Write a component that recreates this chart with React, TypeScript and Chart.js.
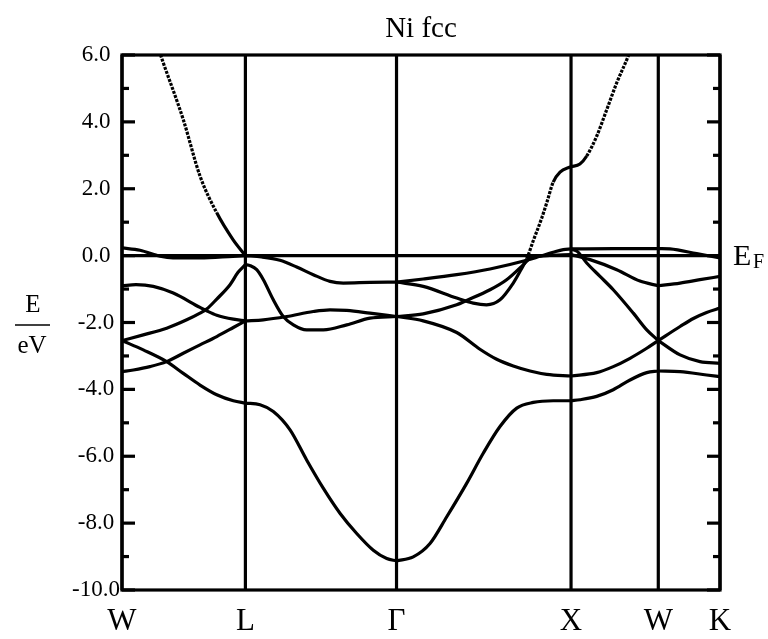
import React, { useEffect, useRef } from "react";
import { Chart, registerables } from "chart.js";

Chart.register(...registerables);

const FONT = "'Liberation Serif', 'Times New Roman', serif";

// ---- high-symmetry path (units of 2π/a) ----
const kPoints = [0, 0.7071, 1.5731, 2.5731, 3.0731, 3.4267];
const kLabels = ["W", "L", "Γ", "X", "W", "K"];

// ---- energy axis ----
const yMin = -10;
const yMax = 6;
const yMajorTicks = [-10, -8, -6, -4, -2, 0, 2, 4, 6];
const yMinorTicks = [-9, -7, -5, -3, -1, 1, 3, 5];
const fermiEnergy = 0;

const titleText = "Ni fcc";
const yLabelTop = "E";
const yLabelBottom = "eV";
const fermiLabel = "E";
const fermiSub = "F";

// ---- bands: [k, E(eV)] ----
// W -> L
const bandWL_a = [[0, 0.23], [0.103, 0.16], [0.218, -0.02], [0.292, -0.07], [0.447, -0.07], [0.636, -0.02], [0.7071, 0]];
const bandWL_sp = [[0.189, 6.5], [0.231, 5.85], [0.351, 4.07], [0.447, 2.38], [0.543, 1.28], [0.636, 0.48], [0.7071, 0]];
const bandWL_b = [[0, -0.9], [0.08, -0.87], [0.179, -0.92], [0.294, -1.12], [0.447, -1.55], [0.485, -1.65], [0.543, -1.78], [0.638, -1.9], [0.7071, -1.95]];
const bandWL_c = [[0, -2.54], [0.122, -2.37], [0.256, -2.17], [0.371, -1.92], [0.447, -1.72], [0.485, -1.6], [0.543, -1.3], [0.619, -0.87], [0.665, -0.5], [0.7071, -0.27]];
const bandWL_d = [[0, -3.47], [0.065, -3.42], [0.16, -3.32], [0.256, -3.17], [0.351, -2.92], [0.447, -2.67], [0.543, -2.42], [0.638, -2.15], [0.7071, -1.95]];
const bandWL_e = [[0, -2.54], [0.122, -2.82], [0.256, -3.17], [0.351, -3.52], [0.447, -3.87], [0.543, -4.16], [0.638, -4.34], [0.7071, -4.41]];

// L -> Γ
const bandLG_a = [[0.7071, 0], [0.8, -0.04], [0.905, -0.14], [1.001, -0.34], [1.096, -0.57], [1.192, -0.77], [1.268, -0.82], [1.421, -0.8], [1.5731, -0.79]];
const bandLG_c = [[0.7071, -0.27], [0.735, -0.3], [0.772, -0.42], [0.81, -0.72], [0.867, -1.32], [0.924, -1.82], [0.982, -2.07], [1.058, -2.22], [1.154, -2.22], [1.288, -2.07], [1.421, -1.87], [1.5731, -1.82]];
const bandLG_b = [[0.7071, -1.95], [0.81, -1.92], [0.944, -1.82], [1.096, -1.67], [1.192, -1.62], [1.288, -1.64], [1.421, -1.72], [1.5731, -1.82]];
const bandLG_low = [[0.7071, -4.41], [0.791, -4.46], [0.867, -4.66], [0.963, -5.21], [1.058, -6.11], [1.154, -6.96], [1.25, -7.71], [1.345, -8.31], [1.44, -8.81], [1.517, -9.06], [1.5731, -9.13]];

// Γ -> X
const bandGX_a = [[1.5731, -0.79], [1.726, -0.7], [1.918, -0.57], [2.109, -0.4], [2.319, -0.14], [2.395, -0.02], [2.471, 0.1], [2.529, 0.18], [2.5731, 0.2]];
const bandGX_sp = [[1.5731, -0.79], [1.726, -0.92], [1.918, -1.27], [2.013, -1.42], [2.089, -1.47], [2.166, -1.32], [2.242, -0.82], [2.281, -0.47], [2.319, -0.1], [2.357, 0.45], [2.405, 1.12], [2.435, 1.6], [2.471, 2.2], [2.51, 2.5], [2.5731, 2.66]];
const bandGX_b = [[1.5731, -1.82], [1.726, -1.74], [1.918, -1.47], [1.975, -1.34], [2.109, -1.02], [2.204, -0.72], [2.3, -0.27], [2.338, -0.08], [2.434, 0.0], [2.5731, 0.03]];
const bandGX_c = [[1.5731, -1.82], [1.726, -1.95], [1.918, -2.3], [2.051, -2.8], [2.147, -3.1], [2.242, -3.3], [2.338, -3.45], [2.434, -3.55], [2.5731, -3.6]];
const bandGX_low = [[1.5731, -9.13], [1.669, -9.01], [1.765, -8.61], [1.861, -7.81], [1.975, -6.81], [2.07, -5.91], [2.166, -5.11], [2.262, -4.56], [2.357, -4.39], [2.471, -4.34], [2.5731, -4.34]];

// X -> W
const bandXW_flat = [[2.5731, 0.2], [2.82, 0.21], [3.0731, 0.21]];
const bandXW_steep = [[2.5731, 0.2], [2.61, 0.12], [2.663, -0.22], [2.739, -0.62], [2.815, -1.02], [2.93, -1.72], [3.007, -2.22], [3.0731, -2.54]];
const bandXW_gentle = [[2.5731, 0.03], [2.682, -0.12], [2.835, -0.42], [2.968, -0.76], [3.0731, -0.9]];
const bandXW_sp = [[2.5731, 2.66], [2.624, 2.74], [2.663, 2.98], [2.72, 3.57], [2.778, 4.37], [2.835, 5.17], [2.901, 5.97], [2.93, 6.4]];
const bandXW_c = [[2.5731, -3.6], [2.72, -3.5], [2.815, -3.32], [2.911, -3.07], [3.007, -2.77], [3.0731, -2.54]];
const bandXW_low = [[2.5731, -4.34], [2.624, -4.31], [2.72, -4.21], [2.815, -4.01], [2.911, -3.72], [3.007, -3.5], [3.0731, -3.45]];

// W -> K
const bandWK_a = [[3.0731, 0.21], [3.14, 0.2], [3.293, 0.06], [3.4267, -0.07]];
const bandWK_b = [[3.0731, -0.9], [3.198, -0.82], [3.312, -0.72], [3.4267, -0.62]];
const bandWK_c = [[3.0731, -2.54], [3.198, -2.12], [3.274, -1.88], [3.35, -1.7], [3.4267, -1.57]];
const bandWK_d = [[3.0731, -2.54], [3.198, -2.97], [3.312, -3.17], [3.4267, -3.22]];
const bandWK_low = [[3.0731, -3.45], [3.198, -3.47], [3.35, -3.57], [3.4267, -3.62]];

const bands = [
  bandWL_a, bandWL_b, bandWL_c, bandWL_d, bandWL_e,
  bandLG_a, bandLG_c, bandLG_b, bandLG_low,
  bandGX_a, bandGX_b, bandGX_c, bandGX_low,
  bandXW_flat, bandXW_steep, bandXW_gentle, bandXW_c, bandXW_low,
  bandWK_a, bandWK_b, bandWK_c, bandWK_d, bandWK_low,
];
const spBands = [bandWL_sp, bandGX_sp, bandXW_sp];

const decorPlugin = {
  id: "decor",
  beforeDatasetsDraw(chart: any) {
    const { ctx, chartArea: a, scales } = chart;
    const x = scales.x;
    const y = scales.y;
    ctx.save();
    ctx.strokeStyle = "#000";
    ctx.lineWidth = 3.2;
    ctx.lineCap = "butt";
    const line = (x1: number, y1: number, x2: number, y2: number) => {
      ctx.beginPath();
      ctx.moveTo(x1, y1);
      ctx.lineTo(x2, y2);
      ctx.stroke();
    };
    kPoints.forEach((k) => {
      const px = x.getPixelForValue(k);
      line(px, a.top, px, a.bottom);
    });
    const fy = y.getPixelForValue(fermiEnergy);
    line(a.left, fy, a.right, fy);
    yMajorTicks.forEach((v) => {
      const py = y.getPixelForValue(v);
      line(a.left, py, a.left + 13, py);
      line(a.right - 13, py, a.right, py);
    });
    yMinorTicks.forEach((v) => {
      const py = y.getPixelForValue(v);
      line(a.left, py, a.left + 7, py);
      line(a.right - 7, py, a.right, py);
    });
    ctx.strokeRect(a.left, a.top, a.right - a.left, a.bottom - a.top);
    ctx.restore();
  },
  afterDraw(chart: any) {
    const { ctx, chartArea: a, scales } = chart;
    const y = scales.y;
    ctx.save();
    ctx.fillStyle = "#000";
    ctx.textBaseline = "alphabetic";
    // title
    ctx.font = `29px ${FONT}`;
    ctx.textAlign = "center";
    ctx.fillText(titleText, (a.left + a.right) / 2, a.top - 18);
    // y label as fraction
    ctx.font = `25px ${FONT}`;
    ctx.fillText(yLabelTop, 33, 312);
    ctx.fillText(yLabelBottom, 32, 353);
    ctx.lineWidth = 1.5;
    ctx.strokeStyle = "#000";
    ctx.beginPath();
    ctx.moveTo(15, 325);
    ctx.lineTo(50, 325);
    ctx.stroke();
    // Fermi label
    const fy = y.getPixelForValue(fermiEnergy);
    ctx.textAlign = "left";
    ctx.font = `30px ${FONT}`;
    ctx.fillText(fermiLabel, a.right + 13, fy + 9);
    ctx.font = `20px ${FONT}`;
    ctx.fillText(fermiSub, a.right + 33, fy + 12);
    ctx.restore();
  },
};

export default function App() {
  const ref = useRef<HTMLCanvasElement>(null);
  useEffect(() => {
    const canvas = ref.current;
    if (!canvas) return;
    const toPts = (b: number[][]) => b.map(([k, e]) => ({ x: k, y: e }));
    const base = {
      borderColor: "#000",
      borderWidth: 3.2,
      pointRadius: 0,
      fill: false,
      cubicInterpolationMode: "monotone" as const,
    };
    const datasets: any[] = bands.map((b) => ({ ...base, data: toPts(b) }));
    spBands.forEach((b) =>
      datasets.push({
        ...base,
        data: toPts(b),
        segment: {
          borderDash: (c: any) => {
            const dx = c.p1.parsed.x - c.p0.parsed.x;
            const dy = c.p1.parsed.y - c.p0.parsed.y;
            return Math.abs(dy / dx) > 10 ? [3, 1.3] : undefined;
          },
        },
      })
    );
    const chart = new Chart(canvas, {
      type: "line",
      data: { datasets },
      plugins: [decorPlugin],
      options: {
        responsive: false,
        animation: false,
        events: [],
        layout: { padding: { left: 0, top: 55, right: 48, bottom: 0 } },
        plugins: { legend: { display: false }, tooltip: { enabled: false }, title: { display: false } },
        scales: {
          x: {
            type: "linear",
            min: kPoints[0],
            max: kPoints[kPoints.length - 1],
            grid: { display: false, drawTicks: false },
            border: { display: false },
            afterBuildTicks: (s: any) => {
              s.ticks = kPoints.map((v) => ({ value: v }));
            },
            afterFit: (s: any) => {
              s.height = 49;
            },
            ticks: {
              autoSkip: false,
              maxRotation: 0,
              minRotation: 0,
              padding: 13,
              color: "#000",
              font: { family: FONT, size: 31 },
              callback: (_v: any, i: number) => kLabels[i],
            },
          },
          y: {
            type: "linear",
            min: yMin,
            max: yMax,
            grid: { display: false, drawTicks: false },
            border: { display: false },
            afterBuildTicks: (s: any) => {
              s.ticks = yMajorTicks.map((v) => ({ value: v }));
            },
            afterFit: (s: any) => {
              s.width = 122;
            },
            ticks: {
              padding: 2,
              crossAlign: "center",
              color: "#000",
              font: { family: FONT, size: 23 },
              callback: (v: any) => Number(v).toFixed(1),
            },
          },
        },
      },
    });
    return () => chart.destroy();
  }, []);
  return (
    <div style={{ position: "absolute", left: 0, top: 0, width: 768, height: 639, background: "#fff" }}>
      <canvas ref={ref} width={768} height={639} />
    </div>
  );
}
